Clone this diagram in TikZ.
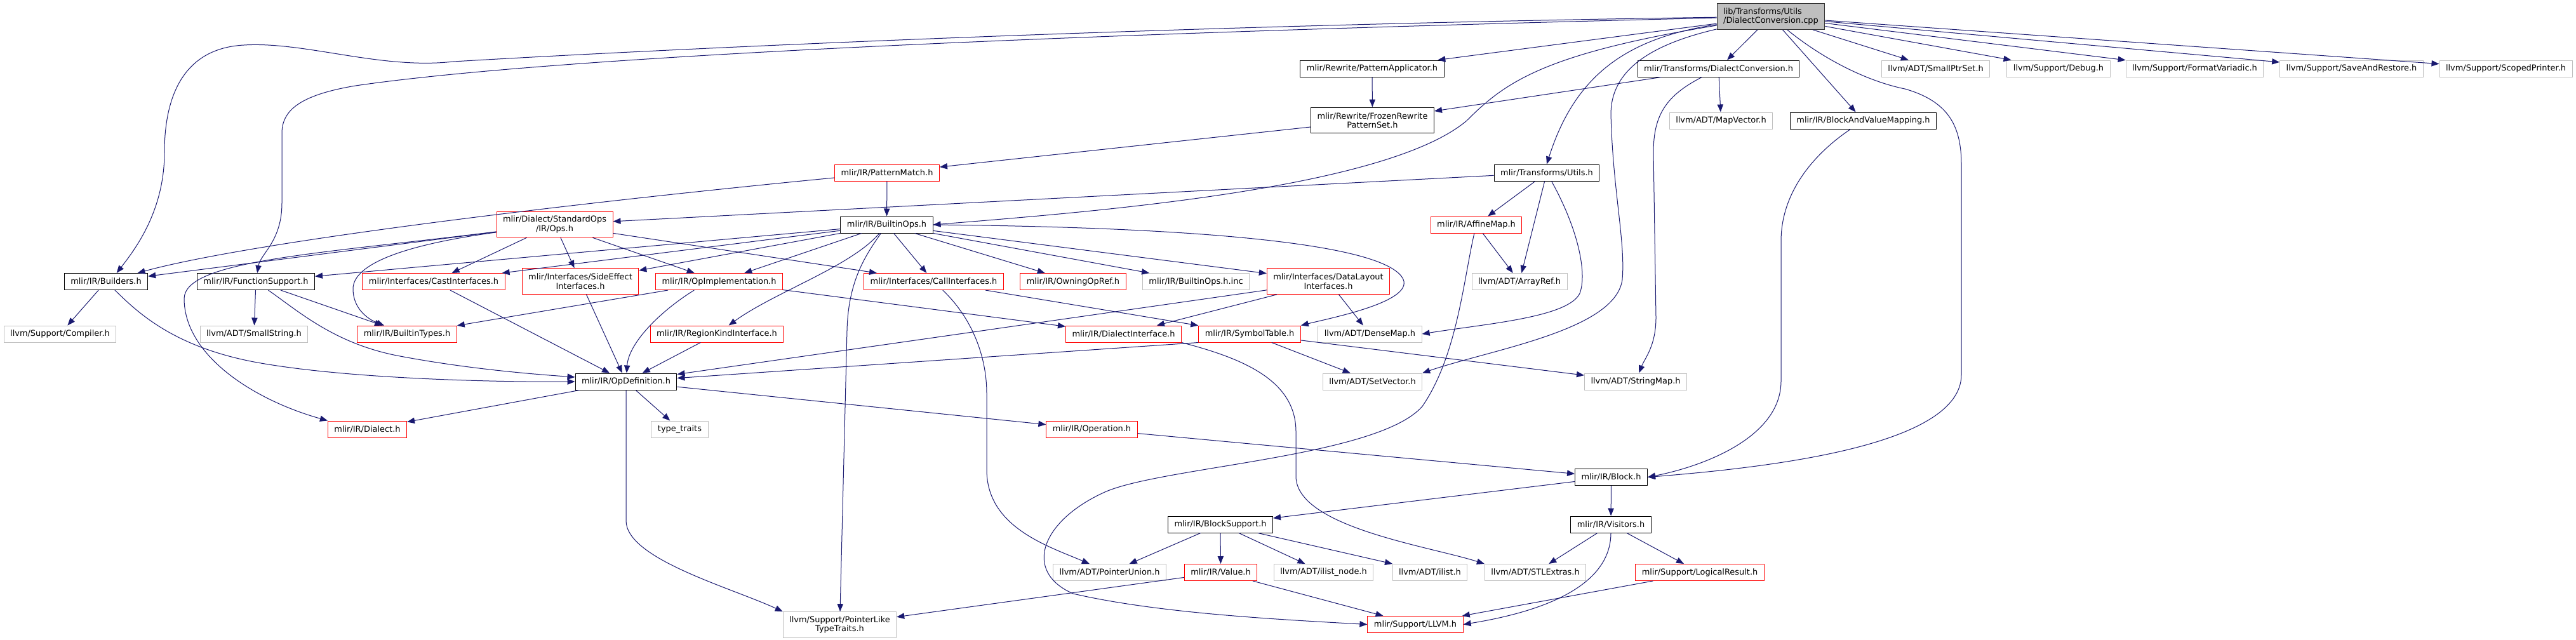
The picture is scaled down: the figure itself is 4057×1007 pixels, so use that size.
\documentclass[tikz,border=0pt]{standalone}
\usepackage{fontspec}
\setmainfont{DejaVu Sans}
\usepackage{xcolor}
\usetikzlibrary{arrows.meta}
\definecolor{edgeblue}{HTML}{191970}
\definecolor{greybox}{HTML}{BFBFBF}

\begin{document}
\begin{tikzpicture}[x=0.75pt, y=-0.75pt,
  font=\fontsize{9.7}{10.8}\selectfont,
  hdr/.style={rectangle, draw, fill=white, line width=0.75pt, inner xsep=7.5pt,
    inner ysep=0pt, minimum height=19.5pt, align=center},
  docbox/.style={hdr, draw=black},
  redbox/.style={hdr, draw=red},
  extbox/.style={hdr, draw=greybox},
  rootbox/.style={hdr, draw=black!80, fill=greybox, align=left},
  tall/.style={minimum height=30.5pt},
  dep/.style={draw=edgeblue, line width=0.75pt, -{Triangle[length=9pt, width=7pt]}}]
  \useasboundingbox (0, 0) rectangle (4057, 1007);

  \node[rootbox, tall] (root) at (2789, 26) {lib/Transforms/Utils\\/DialectConversion.cpp};

  \node[docbox] (papp) at (2161, 108) {mlir/Rewrite/PatternApplicator.h};
  \node[docbox] (dconvh) at (2706.5, 108) {mlir/Transforms/DialectConversion.h};
  \node[extbox] (smallptr) at (3048.5, 108) {llvm/ADT/SmallPtrSet.h};
  \node[extbox] (debug) at (3242, 108) {llvm/Support/Debug.h};
  \node[extbox] (fmtvar) at (3456.5, 108) {llvm/Support/FormatVariadic.h};
  \node[extbox] (saverest) at (3703.5, 108) {llvm/Support/SaveAndRestore.h};
  \node[extbox] (scoped) at (3946.5, 108) {llvm/Support/ScopedPrinter.h};

  \node[docbox, tall] (frozen) at (2161.5, 189.5) {mlir/Rewrite/FrozenRewrite\\PatternSet.h};
  \node[extbox] (mapvec) at (2710.5, 190) {llvm/ADT/MapVector.h};
  \node[docbox] (bavm) at (2934.5, 190) {mlir/IR/BlockAndValueMapping.h};

  \node[redbox] (pmatch) at (1397, 272) {mlir/IR/PatternMatch.h};
  \node[docbox] (tutils) at (2436, 272) {mlir/Transforms/Utils.h};

  \node[redbox, tall] (ops) at (873.5, 353.5) {mlir/Dialect/StandardOps\\/IR/Ops.h};
  \node[docbox] (bops) at (1396.5, 354) {mlir/IR/BuiltinOps.h};
  \node[redbox] (affine) at (2325, 354) {mlir/IR/AffineMap.h};

  \node[docbox] (builders) at (167, 443.5) {mlir/IR/Builders.h};
  \node[docbox] (funcsup) at (403, 443.5) {mlir/IR/FunctionSupport.h};
  \node[redbox] (castif) at (683, 443.5) {mlir/Interfaces/CastInterfaces.h};
  \node[redbox, tall] (sideeff) at (914, 443) {mlir/Interfaces/SideEffect\\Interfaces.h};
  \node[redbox] (opimpl) at (1132.5, 443.5) {mlir/IR/OpImplementation.h};
  \node[redbox] (callif) at (1470.5, 443.5) {mlir/Interfaces/CallInterfaces.h};
  \node[redbox] (owning) at (1690, 443.5) {mlir/IR/OwningOpRef.h};
  \node[extbox] (bopsinc) at (1883.5, 443.5) {mlir/IR/BuiltinOps.h.inc};
  \node[redbox, tall] (dlayout) at (2092, 443) {mlir/Interfaces/DataLayout\\Interfaces.h};
  \node[extbox] (arrayref) at (2393, 443.5) {llvm/ADT/ArrayRef.h};

  \node[extbox] (compiler) at (94.5, 526) {llvm/Support/Compiler.h};
  \node[extbox] (smallstr) at (400, 526) {llvm/ADT/SmallString.h};
  \node[redbox] (btypes) at (641, 526) {mlir/IR/BuiltinTypes.h};
  \node[redbox] (regionk) at (1129, 526) {mlir/IR/RegionKindInterface.h};
  \node[redbox] (dialif) at (1769.5, 526) {mlir/IR/DialectInterface.h};
  \node[redbox] (symtab) at (1968, 526) {mlir/IR/SymbolTable.h};
  \node[extbox] (densemap) at (2157.5, 526) {llvm/ADT/DenseMap.h};

  \node[docbox] (opdef) at (986, 601) {mlir/IR/OpDefinition.h};
  \node[extbox] (setvec) at (2161.5, 601) {llvm/ADT/SetVector.h};
  \node[extbox] (strmap) at (2576, 601) {llvm/ADT/StringMap.h};

  \node[redbox] (dialect) at (578.5, 676) {mlir/IR/Dialect.h};
  \node[extbox] (typetr) at (1070.5, 676) {type\_traits};
  \node[redbox] (operation) at (1719.5, 676) {mlir/IR/Operation.h};

  \node[docbox] (block) at (2537.5, 751.5) {mlir/IR/Block.h};

  \node[docbox] (bsupport) at (1922, 826) {mlir/IR/BlockSupport.h};
  \node[docbox] (visitors) at (2537, 826) {mlir/IR/Visitors.h};

  \node[extbox] (ptrunion) at (1747.5, 901.5) {llvm/ADT/PointerUnion.h};
  \node[redbox] (value) at (1922.5, 901.5) {mlir/IR/Value.h};
  \node[extbox] (ilistnode) at (2084.5, 901.5) {llvm/ADT/ilist\_node.h};
  \node[extbox] (ilist) at (2252, 901.5) {llvm/ADT/ilist.h};
  \node[extbox] (stlextras) at (2418, 901.5) {llvm/ADT/STLExtras.h};
  \node[redbox] (logres) at (2677, 901.5) {mlir/Support/LogicalResult.h};

  \node[extbox, tall] (ptrlike) at (1322.5, 984) {llvm/Support/PointerLike\\TypeTraits.h};
  \node[redbox] (llvmh) at (2229, 983.5) {mlir/Support/LLVM.h};

  \draw[dep] (root) .. controls (1800, 40) and (1000, 80) .. (714, 97)
    .. controls (600, 110) and (480, 65) .. (384, 71)
    .. controls (290, 76) and (259, 150) .. (259, 240)
    .. controls (259, 330) and (215, 390) .. (builders.39);
  \draw[dep] (root) .. controls (1400, 60) and (800, 100) .. (560, 135)
    .. controls (470, 150) and (444, 175) .. (444, 210) -- (444, 320)
    .. controls (444, 380) and (410, 400) .. (funcsup);
  \draw[dep] (root) -- (papp);
  \draw[dep] (root) -- (dconvh);
  \draw[dep] (root) .. controls (2560, 60) and (2480, 120) .. (tutils.north);
  \draw[dep] (root) .. controls (2430, 85) and (2370, 130) .. (2310, 190)
    .. controls (2180, 300) and (1700, 335) .. (bops.east);
  \draw[dep] (root) .. controls (2600, 70) and (2537, 110) .. (2537, 180)
    .. controls (2540, 300) and (2560, 380) .. (2555, 440)
    .. controls (2545, 520) and (2350, 550) .. (setvec.north east);
  \draw[dep] (root) -- (bavm);
  \draw[dep] (root) .. controls (2880, 100) and (2950, 130) .. (3000, 140)
    .. controls (3070, 160) and (3089, 200) .. (3089, 260) -- (3089, 590)
    .. controls (3089, 700) and (2800, 735) .. (block.east);
  \draw[dep] (root) -- (smallptr);
  \draw[dep] (root) -- (debug);
  \draw[dep] (root) -- (fmtvar);
  \draw[dep] (root) -- (saverest);
  \draw[dep] (root) -- (scoped);

  \draw[dep] (dconvh) -- (frozen);
  \draw[dep] (dconvh) -- (mapvec);
  \draw[dep] (dconvh) .. controls (2625, 150) and (2604, 180) .. (2604, 240) -- (2608, 500)
    .. controls (2608, 545) and (2590, 565) .. (strmap);
  \draw[dep] (bavm) .. controls (2860, 240) and (2805, 300) .. (2805, 380) -- (2805, 600)
    .. controls (2805, 690) and (2680, 735) .. (block.east);
  \draw[dep] (papp) -- (frozen);
  \draw[dep] (frozen) -- (pmatch);

  \draw[dep] (pmatch) -- (bops);
  \draw[dep] (pmatch) .. controls (900, 320) and (400, 380) .. (builders);
  \draw[dep] (tutils) -- (ops);
  \draw[dep] (tutils) -- (affine);
  \draw[dep] (tutils) -- (arrayref);
  \draw[dep] (tutils) .. controls (2485, 360) and (2500, 430) .. (2488, 462)
    .. controls (2470, 500) and (2340, 510) .. (densemap.east);
  \draw[dep] (affine) -- (arrayref);
  \draw[dep] (affine) .. controls (2305, 440) and (2295, 560) .. (2240, 640)
    .. controls (2170, 720) and (1830, 735) .. (1740, 775)
    .. controls (1640, 820) and (1610, 900) .. (1690, 935)
    .. controls (1820, 965) and (2000, 975) .. (llvmh.west);

  \draw[dep] (ops) -- (builders);
  \draw[dep] (ops) .. controls (500, 400) and (292, 410) .. (290, 470)
    .. controls (290, 560) and (400, 630) .. (dialect.north west);
  \draw[dep] (ops) .. controls (640, 385) and (556, 415) .. (556, 455)
    .. controls (556, 490) and (585, 505) .. (btypes);
  \draw[dep] (ops) -- (castif);
  \draw[dep] (ops) -- (sideeff);
  \draw[dep] (ops) -- (opimpl);
  \draw[dep] (ops) -- (callif);

  \draw[dep] (bops) -- (funcsup);
  \draw[dep] (bops) -- (castif);
  \draw[dep] (bops) -- (sideeff);
  \draw[dep] (bops) -- (opimpl);
  \draw[dep] (bops) .. controls (1340, 420) and (1220, 460) .. (regionk);
  \draw[dep] (bops) .. controls (1365, 400) and (1336, 440) .. (1334, 520) -- (ptrlike);
  \draw[dep] (bops) -- (callif);
  \draw[dep] (bops) -- (owning);
  \draw[dep] (bops) -- (bopsinc);
  \draw[dep] (bops) -- (dlayout);
  \draw[dep] (bops.east) .. controls (1900, 358) and (2185, 385) .. (2210, 440)
    .. controls (2225, 475) and (2100, 500) .. (symtab.north east);

  \draw[dep] (funcsup) -- (smallstr);
  \draw[dep] (funcsup) -- (btypes);
  \draw[dep] (funcsup) .. controls (470, 490) and (525, 540) .. (625, 560)
    .. controls (740, 582) and (850, 590) .. (opdef.175);
  \draw[dep] (builders) -- (compiler);
  \draw[dep] (builders) .. controls (215, 490) and (270, 545) .. (400, 570)
    .. controls (550, 598) and (800, 602) .. (opdef.west);
  \draw[dep] (castif) -- (opdef);
  \draw[dep] (sideeff) -- (opdef);
  \draw[dep] (opimpl) -- (btypes);
  \draw[dep] (opimpl.199) .. controls (1040, 490) and (990, 540) .. (opdef);
  \draw[dep] (opimpl) -- (dialif);
  \draw[dep] (regionk) -- (opdef);
  \draw[dep] (callif) .. controls (1530, 500) and (1554, 560) .. (1554, 620) -- (1554, 740)
    .. controls (1554, 830) and (1650, 860) .. (ptrunion);
  \draw[dep] (callif) -- (symtab);
  \draw[dep] (dlayout) -- (opdef);
  \draw[dep] (dlayout) -- (dialif);
  \draw[dep] (dlayout) -- (densemap);
  \draw[dep] (dialif.south east) .. controls (1960, 565) and (2041, 600) .. (2041, 680) -- (2041, 750)
    .. controls (2041, 830) and (2250, 860) .. (stlextras.north west);
  \draw[dep] (symtab.south west) -- (opdef);
  \draw[dep] (symtab) -- (setvec);
  \draw[dep] (symtab) -- (strmap);

  \draw[dep] (opdef) -- (dialect);
  \draw[dep] (opdef) -- (typetr);
  \draw[dep] (opdef.south) -- (986, 820) .. controls (986, 880) and (1150, 925) .. (ptrlike.north west);
  \draw[dep] (opdef) -- (operation);
  \draw[dep] (operation) -- (block);

  \draw[dep] (block) -- (bsupport);
  \draw[dep] (block) -- (visitors);
  \draw[dep] (bsupport) -- (ptrunion);
  \draw[dep] (bsupport) -- (value);
  \draw[dep] (bsupport) -- (ilistnode);
  \draw[dep] (bsupport) -- (ilist);
  \draw[dep] (visitors) -- (stlextras);
  \draw[dep] (visitors) -- (logres);
  \draw[dep] (visitors) .. controls (2537, 900) and (2480, 955) .. (llvmh.east);
  \draw[dep] (logres) -- (llvmh);
  \draw[dep] (value) -- (ptrlike);
  \draw[dep] (value) -- (llvmh);
\end{tikzpicture}
\end{document}
